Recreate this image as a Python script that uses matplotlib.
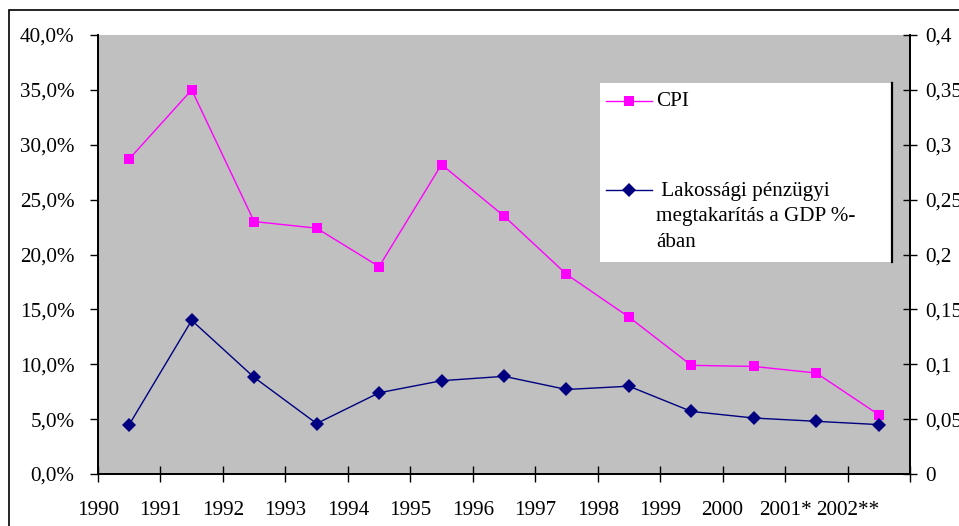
import matplotlib.pyplot as plt
import matplotlib.ticker as mticker
from matplotlib.patches import Rectangle
from matplotlib.lines import Line2D
import numpy as np

years = ['1990', '1991', '1992', '1993', '1994', '1995', '1996', '1997',
         '1998', '1999', '2000', '2001*', '2002**']
cpi = [28.7, 35.0, 23.0, 22.4, 18.9, 28.2, 23.5, 18.2, 14.3, 9.9, 9.8, 9.2, 5.4]
savings = [0.045, 0.140, 0.088, 0.046, 0.074, 0.085, 0.089, 0.077, 0.080,
           0.057, 0.051, 0.048, 0.045]

plt.rcParams['font.family'] = ['Liberation Serif', 'DejaVu Serif']
plt.rcParams['font.size'] = 15.2

W, H = 959, 526
fig = plt.figure(figsize=(W / 100, H / 100), dpi=100)

# outer chart border (cut at right/bottom in the reference)
fig.patches.append(Rectangle((9 / W, -0.2), 2, 1.2 - 10 / H, transform=fig.transFigure,
                             fill=False, edgecolor='black', linewidth=1.2))

ax = fig.add_axes([98 / W, 1 - 474 / H, (910 - 98) / W, (474 - 35) / H])
ax.set_facecolor('#c0c0c0')
x = np.arange(len(years))

ax.plot(x, cpi, color='#ff00ff', linewidth=1.0, marker='s', markersize=7.7,
        markeredgewidth=0)
ax.set_xlim(-0.5, len(years) - 0.5)
ax.set_ylim(0, 40)
ax.yaxis.set_major_locator(mticker.MultipleLocator(5))
ax.yaxis.set_major_formatter(mticker.FuncFormatter(lambda v, p: f'{v:.1f}%'.replace('.', ',')))
ax.set_xticks(np.arange(len(years) + 1) - 0.5)
ax.set_xticklabels(years + [''])
ax.tick_params(axis='y', direction='out', length=6, width=1, pad=11)
ax.tick_params(axis='x', direction='inout', length=11, width=1, pad=14)

ax2 = ax.twinx()
ax2.plot(x, savings, color='#000080', linewidth=1.0, marker='D', markersize=7,
         markeredgewidth=0)
ax2.set_ylim(0, 0.4)
ax2.yaxis.set_major_locator(mticker.MultipleLocator(0.05))


def right_fmt(v, p):
    s = f'{v:.2f}'.rstrip('0').rstrip('.')
    return s.replace('.', ',')


ax2.yaxis.set_major_formatter(mticker.FuncFormatter(right_fmt))
ax2.tick_params(axis='y', direction='inout', length=10, width=1, pad=6)

for a in (ax, ax2):
    for s in a.spines.values():
        s.set_linewidth(1.3)
    a.spines['top'].set_visible(False)

# legend box
def px(xp, yp):
    return xp / W, 1 - yp / H

lx0, ly0 = px(600, 262)
lx1, ly1 = px(892, 83)
fig.patches.append(Rectangle((lx0, ly0), lx1 - lx0, ly1 - ly0, transform=fig.transFigure,
                             facecolor='white', edgecolor='none', zorder=5))
fig.lines.append(Line2D([lx1, lx1], [ly0, ly1], transform=fig.transFigure,
                        color='black', linewidth=1.6, zorder=6))

for yp, col, mk, ms in [(101, '#ff00ff', 's', 7.7), (190, '#000080', 'D', 7)]:
    a0, b0 = px(606, yp)
    a1, _ = px(652, yp)
    am, _ = px(629, yp)
    fig.lines.append(Line2D([a0, a1], [b0, b0], transform=fig.transFigure,
                            color=col, linewidth=1.0, zorder=6))
    fig.lines.append(Line2D([am], [b0], transform=fig.transFigure, color=col,
                            marker=mk, markersize=ms, markeredgewidth=0, zorder=7))

tx, ty = px(656, 101)
fig.text(tx, ty, 'CPI', va='center', ha='left', zorder=7)
tx, ty = px(656, 182)
fig.text(tx, ty, ' Lakossági pénzügyi\nmegtakarítás a GDP %-\nában', va='top', ha='left',
         linespacing=1.45, zorder=7)

fig.savefig('out.png', dpi=100)
